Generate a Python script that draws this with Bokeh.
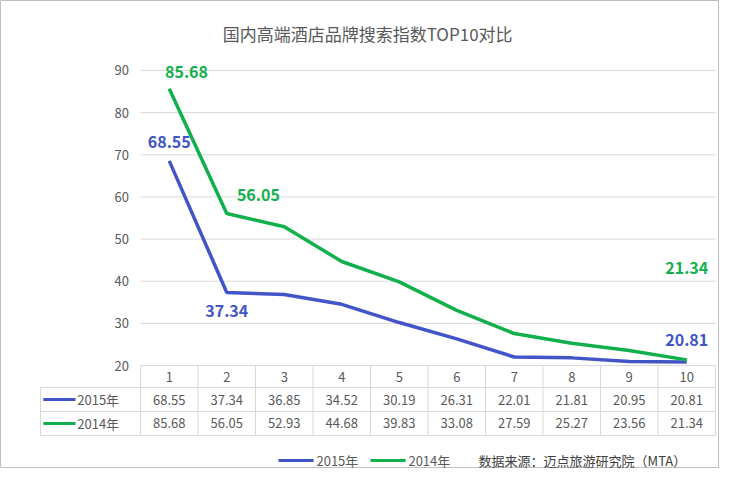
from bokeh.plotting import figure
from bokeh.models import Range1d
from bokeh.embed import file_html
from bokeh.resources import INLINE
from bokeh.core.properties import value

cats = list(range(1, 11))
s2015 = [68.55, 37.34, 36.85, 34.52, 30.19, 26.31, 22.01, 21.81, 20.95, 20.81]
s2014 = [85.68, 56.05, 52.93, 44.68, 39.83, 33.08, 27.59, 25.27, 23.56, 21.34]
yticks = [20, 30, 40, 50, 60, 70, 80, 90]
names = ["2015年", "2014年"]
title = "国内高端酒店品牌搜索指数TOP10对比"
source = "数据来源：迈点旅游研究院（MTA）"

BLUE = "#4155C9"
GREEN = "#12B04C"
GRID = "#D9D9D9"
TXT = "#595959"
F = value("Microsoft YaHei, Noto Sans CJK SC")

p = figure(width=719, height=468, output_backend="svg", toolbar_location=None,
           x_range=Range1d(-1.935, 10.570), y_range=Range1d(-4.44, 106.61),
           min_border=0, min_border_left=0, min_border_right=0,
           min_border_top=0, min_border_bottom=0)
p.axis.visible = False
p.grid.visible = False
p.outline_line_color = "#BFBFBF"

p.segment(x0=[0.5]*len(yticks), x1=[10.5]*len(yticks), y0=yticks, y1=yticks, line_color=GRID, line_width=1)
p.text(x=[0.3]*len(yticks), y=yticks, text=[str(t) for t in yticks], text_align="right",
       text_baseline="middle", text_font=F, text_font_size="13px", text_color=TXT)

yb = [14.78, 9.09, 3.39]
p.segment(x0=[-1.239]*3, x1=[10.5]*3, y0=yb, y1=yb, line_color=GRID)
xs = [0.5 + i for i in range(11)]
p.segment(x0=xs, x1=xs, y0=[3.39]*11, y1=[20]*11, line_color=GRID)
p.segment(x0=[-1.239], x1=[-1.239], y0=[3.39], y1=[14.78], line_color=GRID)
ry = [17.39, 11.93, 6.24]
p.text(x=cats, y=[ry[0]]*10, text=[str(c) for c in cats], text_align="center", text_baseline="middle",
       text_font=F, text_font_size="13px", text_color=TXT)
for vals, yy, col, nm in [(s2015, ry[1], BLUE, names[0]), (s2014, ry[2], GREEN, names[1])]:
    p.text(x=cats, y=[yy]*10, text=["%.2f" % v for v in vals], text_align="center", text_baseline="middle",
           text_font=F, text_font_size="13px", text_color=TXT)
    p.line(x=[-1.19, -0.63], y=[yy, yy], line_color=col, line_width=3)
    p.text(x=[-0.6], y=[yy], text=[nm], text_baseline="middle", text_font=F, text_font_size="13px", text_color=TXT)

p.line(cats, s2015, line_color=BLUE, line_width=3.5)
p.line(cats, s2014, line_color=GREEN, line_width=3.5)

bold = dict(text_font=F, text_font_size="16px", text_font_style="bold", text_baseline="middle")
p.text(x=[1, 2, 10], y=[s2015[0] + 4.5, s2015[1] - 4.5, s2015[9] + 5.2],
       text=["%.2f" % s2015[0], "%.2f" % s2015[1], "%.2f" % s2015[9]], text_align="center",
       text_color=BLUE, **bold)
p.text(x=[1.3, 2.55, 10], y=[s2014[0] + 4, s2014[1] + 4.3, s2014[9] + 21.7],
       text=["%.2f" % s2014[0], "%.2f" % s2014[1], "%.2f" % s2014[9]], text_align="center",
       text_color=GREEN, **bold)

p.text(x=[4.45], y=[98.78], text=[title], text_align="center", text_baseline="middle",
       text_font=F, text_font_size="17px", text_color=TXT)

p.line(x=[2.90, 3.51], y=[-2.55, -2.55], line_color=BLUE, line_width=3)
p.line(x=[4.50, 5.11], y=[-2.55, -2.55], line_color=GREEN, line_width=3)
p.text(x=[3.56, 5.16], y=[-2.55, -2.55], text=names, text_baseline="middle",
       text_font=F, text_font_size="13px", text_color=TXT)
p.text(x=[6.38], y=[-2.55], text=[source], text_baseline="middle",
       text_font=F, text_font_size="13px", text_color="#404040")

open("out.html", "w").write(file_html(p, INLINE))
